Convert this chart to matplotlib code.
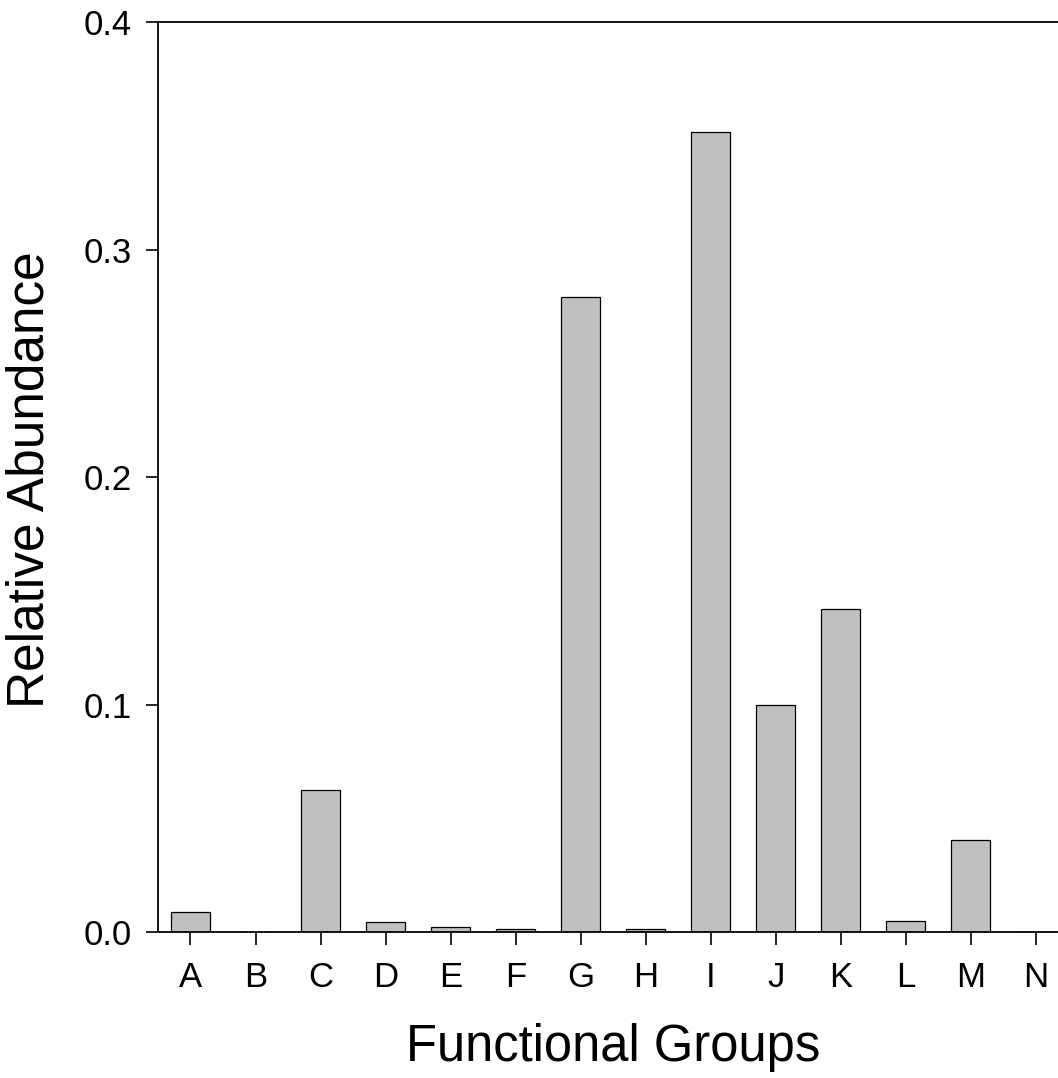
import numpy as np
import matplotlib
matplotlib.use("Agg")
import matplotlib.pyplot as plt

plt.rcParams['font.family'] = ['Liberation Sans', 'DejaVu Sans']

# ── Data ──────────────────────────────────────────────────────────────────────
groups = ['A', 'B', 'C', 'D', 'E', 'F', 'G', 'H', 'I', 'J', 'K', 'L', 'M', 'N']
abundance = [0.0087, 0.0, 0.0624, 0.0043, 0.0021, 0.0013, 0.279,
             0.0013, 0.3516, 0.0998, 0.142, 0.0047, 0.0404, 0.0]
yticks = [0.0, 0.1, 0.2, 0.3, 0.4]

fig = plt.figure(figsize=(10.58, 10.78), dpi=100, facecolor='white')
ax = fig.add_axes([0.1493, 0.1354, 0.8606, 0.8442])

x = np.arange(len(groups))
ax.bar(x, abundance, width=0.6, color='#c0c0c0', edgecolor='black', linewidth=0.9, zorder=2)

# ── Axes style ────────────────────────────────────────────────────────────────
ax.set_xlim(-0.5, 13.5)
ax.set_ylim(0, 0.4)
ax.set_xticks(x)
ax.set_xticklabels(groups)
ax.set_yticks(yticks)
ax.set_yticklabels([f'{v:.1f}' for v in yticks])
ax.tick_params(direction='out', length=9, width=1.2, labelsize=25)
ax.tick_params(axis='x', pad=12)
ax.tick_params(axis='y', pad=10)

for s in ax.spines.values():
    s.set_linewidth(1.3)

ax.set_xlabel('Functional Groups', fontsize=36.5)
ax.set_ylabel('Relative Abundance', fontsize=37)
ax.xaxis.label.set_va('center')
ax.yaxis.label.set_va('center')
ax.xaxis.set_label_coords(0.5, -0.1264)
ax.yaxis.set_label_coords(-0.1406, 0.4967)

fig.savefig('out.png', dpi=100, facecolor='white')
